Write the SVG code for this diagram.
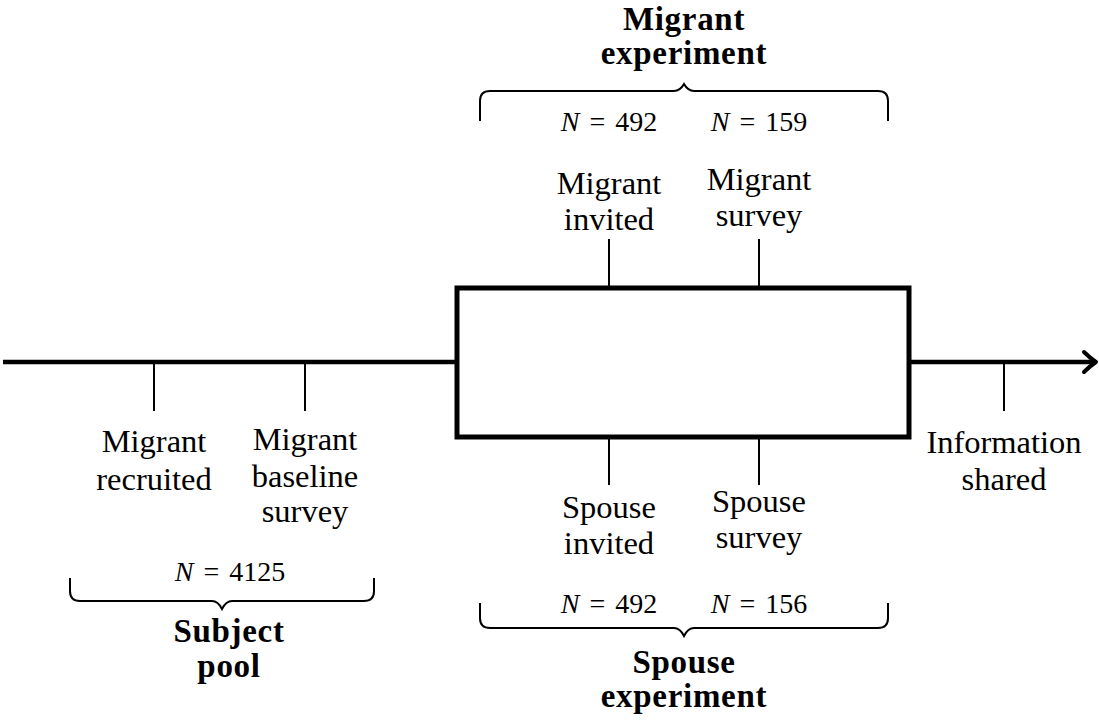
<svg xmlns="http://www.w3.org/2000/svg" width="1099" height="721" viewBox="0 0 1099 721">
<style>
.lbl{font-family:"Liberation Serif","DejaVu Serif",serif;font-size:32.5px;fill:#000;text-anchor:middle}
.n{font-family:"Liberation Serif","DejaVu Serif",serif;font-size:28px;fill:#000;text-anchor:middle;word-spacing:3px}
.b{font-family:"Liberation Serif","DejaVu Serif",serif;font-size:33px;font-weight:bold;fill:#000;text-anchor:middle;letter-spacing:0.7px}
.tick{stroke:#000;stroke-width:2;fill:none}
.brace{stroke:#000;stroke-width:2;fill:none}
</style>
<rect width="1099" height="721" fill="#fff"/>
<g id="connectors">
<line x1="3" y1="362" x2="1094" y2="362" stroke="#000" stroke-width="4.5"/>
<path d="M1084,352 Q1090,358 1096,362 Q1090,366 1084,372" fill="none" stroke="#000" stroke-width="4" stroke-linecap="round" stroke-linejoin="round"/>
</g>
<g id="box">
<rect x="457" y="288" width="452" height="149" fill="#fff" stroke="#000" stroke-width="5"/>
</g>
<g id="recruited">
<line class="tick" x1="154" y1="364" x2="154" y2="411"/>
<text class="lbl" x="154" y="452">Migrant</text>
<text class="lbl" x="154" y="490">recruited</text>
</g>
<g id="baseline">
<line class="tick" x1="305" y1="364" x2="305" y2="411"/>
<text class="lbl" x="305" y="450">Migrant</text>
<text class="lbl" x="305" y="487">baseline</text>
<text class="lbl" x="305" y="522">survey</text>
</g>
<g id="info">
<line class="tick" x1="1004" y1="364" x2="1004" y2="411"/>
<text class="lbl" x="1004" y="453">Information</text>
<text class="lbl" x="1004" y="490">shared</text>
</g>
<g id="m-invited">
<line class="tick" x1="609" y1="286" x2="609" y2="239"/>
<text class="lbl" x="609" y="194">Migrant</text>
<text class="lbl" x="609" y="230">invited</text>
</g>
<g id="m-survey">
<line class="tick" x1="759" y1="286" x2="759" y2="239"/>
<text class="lbl" x="759" y="190">Migrant</text>
<text class="lbl" x="759" y="226">survey</text>
</g>
<g id="s-invited">
<line class="tick" x1="609" y1="439" x2="609" y2="485"/>
<text class="lbl" x="609" y="518">Spouse</text>
<text class="lbl" x="609" y="554">invited</text>
</g>
<g id="s-survey">
<line class="tick" x1="759" y1="439" x2="759" y2="485"/>
<text class="lbl" x="759" y="512">Spouse</text>
<text class="lbl" x="759" y="548">survey</text>
</g>
<g id="migrant-experiment">
<path class="brace" d="M480,121 L480,101 Q480,91 490,91 L674,91 Q680,91 684,84 Q688,91 694,91 L878,91 Q888,91 888,101 L888,121"/>
<text class="b" x="684" y="30">Migrant</text>
<text class="b" x="684" y="64">experiment</text>
<text class="n" x="609" y="131"><tspan font-style="italic">N</tspan> = 492</text>
<text class="n" x="759" y="131"><tspan font-style="italic">N</tspan> = 159</text>
</g>
<g id="spouse-experiment">
<path class="brace" d="M480,603 L480,618 Q480,628 490,628 L674,628 Q680,628 684,636 Q688,628 694,628 L878,628 Q888,628 888,618 L888,603"/>
<text class="n" x="609" y="613"><tspan font-style="italic">N</tspan> = 492</text>
<text class="n" x="759" y="613"><tspan font-style="italic">N</tspan> = 156</text>
<text class="b" x="684" y="673">Spouse</text>
<text class="b" x="684" y="707">experiment</text>
</g>
<g id="subject-pool">
<path class="brace" d="M70,578 L70,591 Q70,601 80,601 L212,601 Q218,601 222,609 Q226,601 232,601 L364,601 Q374,601 374,591 L374,578"/>
<text class="n" x="230" y="581"><tspan font-style="italic">N</tspan> = 4125</text>
<text class="b" x="229" y="642">Subject</text>
<text class="b" x="229" y="677">pool</text>
</g>
</svg>
